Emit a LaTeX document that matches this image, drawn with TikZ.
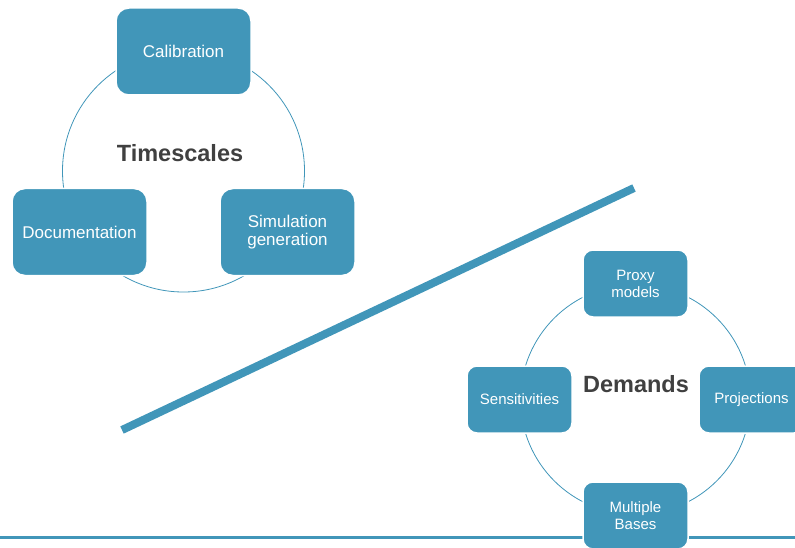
\documentclass[tikz,border=0pt]{standalone}
\usepackage{fontspec}
\setmainfont{Liberation Sans}
\definecolor{boxblue}{RGB}{65,150,185}
\definecolor{hubgray}{RGB}{64,64,64}

\begin{document}
\begin{tikzpicture}[x=1pt,y=-1pt,
        bigbox/.style={rectangle, rounded corners=13pt, fill=boxblue, draw=white, line width=1.5pt,
            text=white, align=center, inner sep=0pt, minimum width=135pt, minimum height=87pt,
            font=\fontsize{17}{18}\selectfont},
        smallbox/.style={bigbox, rounded corners=10pt, minimum width=105pt, minimum height=67pt,
            font=\fontsize{15}{17}\selectfont},
        ring/.style={draw=boxblue, line width=0.8pt},
        hub/.style={text=hubgray, font=\fontsize{23.5}{26}\selectfont\bfseries}]
    \useasboundingbox (0,0) rectangle (795,548);

    % timescales cycle
    \coordinate (T) at (183.5,171);
    \draw[ring] (T) circle[radius=121];
    \node[hub] (timescales) at (180,153) {Timescales};
    \node[bigbox] (calib) at (183.5,51.5) {Calibration};
    \node[bigbox] (docu) at (79.5,232) {Documentation};
    \node[bigbox] (simgen) at (287.5,232) {Simulation\\generation};

    % divider
    \coordinate (slashA) at (122,430);
    \coordinate (slashB) at (634,188);
    \draw[boxblue, line width=8pt] (slashA) -- (slashB);

    % demands cycle
    \coordinate (D) at (635.5,399.5);
    \coordinate (baseL) at (0,537.5);
    \coordinate (baseR) at (795,537.5);
    \draw[ring] (D) circle[radius=115];
    \draw[boxblue, line width=2.5pt] (baseL) -- (baseR);
    \node[hub] (demands) at (636,384) {Demands};
    \node[smallbox] (proxy) at (635.5,283.5) {Proxy\\models};
    \node[smallbox] (sens) at (519.5,399.5) {Sensitivities};
    \node[smallbox] (proj) at (751.5,399.5) {Projections};
    \node[smallbox] (bases) at (635.5,515.5) {Multiple\\Bases};
\end{tikzpicture}
\end{document}
